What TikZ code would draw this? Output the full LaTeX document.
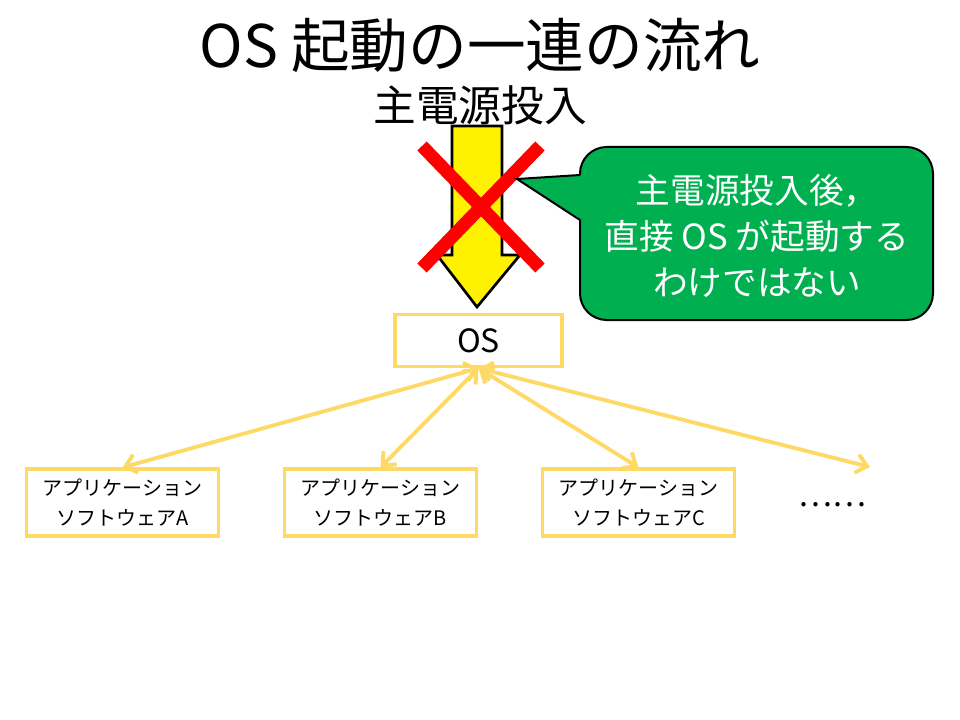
\documentclass[tikz,border=0pt]{standalone}
\usepackage{fontspec}
\setmainfont{Noto Sans CJK JP}
\usetikzlibrary{arrows.meta}
\definecolor{boxline}{HTML}{FFD966}
\definecolor{notegreen}{HTML}{00B050}
\tikzset{
  appbox/.style={draw=boxline, line width=2.6pt, minimum width=144pt, minimum height=50pt,
    align=center, font=\fontsize{15}{22.5}\selectfont},
  osbox/.style={draw=boxline, line width=2.6pt, minimum width=125pt, minimum height=39pt,
    font=\fontsize{24}{28}\selectfont},
  link/.style={draw=boxline, line width=2.9pt,
    {Straight Barb[length=8pt,width=14pt]}-{Straight Barb[length=8pt,width=14pt]}},
  nogo/.style={draw=red, line width=9.75pt},
  bigarrow/.style={draw=black, line width=2pt, fill=yellow},
  note/.style={draw=black, line width=1.5pt, fill=notegreen, rounded corners=20pt},
}
\begin{document}
\begin{tikzpicture}[x=0.75pt,y=0.75pt]
\tikzstyle{every node}+=[inner sep=0pt]
\useasboundingbox (0,0) rectangle (960,-720);
\node[font=\fontsize{44}{52}\selectfont] (title) at (480,-45) {OS 起動の一連の流れ};
\node[font=\fontsize{32}{38}\selectfont] (power) at (480,-105) {主電源投入};
%\draw (power.south) -- (os.north);
\draw [bigarrow] (452,-126) -- (502,-126) -- (502,-255) -- (520,-255) -- (477,-307)
  -- (437,-255) -- (452,-255) -- cycle;
\draw [nogo] (422,-146) -- (540,-268);
\draw [nogo] (540,-146) -- (422,-268);
\draw [note] (580,-147) rectangle (933,-320);
\fill [notegreen] (582,-175) -- (517,-179) -- (582,-220) -- cycle;
\draw [line width=1.5pt] (580,-175) -- (517,-179) -- (580,-220);
\node[align=center, text=white, font=\fontsize{26}{34.5}\selectfont] (msg) at (757,-236)
  {主電源投入後，\\直接 OS が起動する\\わけではない};
\node[osbox] (os) at (478.5,-340.5) {OS};
\node[appbox] (appA) at (122.5,-502.5) {アプリケーション\\ソフトウェアA};
\node[appbox] (appB) at (380.5,-502.5) {アプリケーション\\ソフトウェアB};
\node[appbox] (appC) at (638.5,-502.5) {アプリケーション\\ソフトウェアC};
\node[font=\fontsize{24}{28}\selectfont] (dots) at (832,-505) {……};
\coordinate (more) at (870,-467);
\draw [link] (os.south) -- (appA.north);
\draw [link] (os.south) -- (appB.north);
\draw [link] (os.south) -- (appC.north);
\draw [link] (os.south) -- (more);
\end{tikzpicture}
\end{document}
